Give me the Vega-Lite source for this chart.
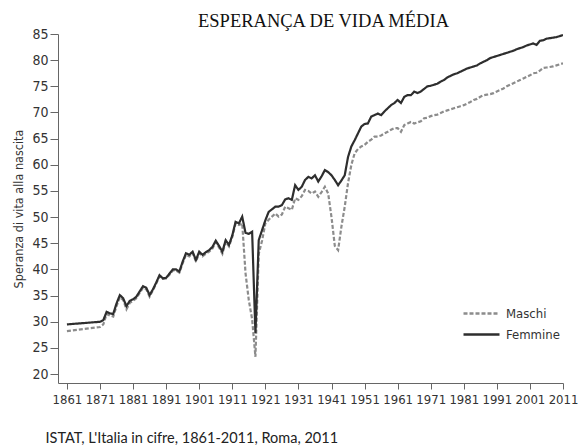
{
  "$schema": "https://vega.github.io/schema/vega-lite/v6.json",
  "autosize": {"type": "none"},
  "width": 505,
  "height": 349,
  "padding": {"left": 58, "top": 34, "right": 15, "bottom": 63},
  "background": "white",
  "title": {
    "text": "ESPERANÇA DE VIDA MÉDIA",
    "font": "Liberation Serif",
    "fontSize": 18.5,
    "fontWeight": "normal",
    "color": "#111111",
    "anchor": "middle",
    "dx": 13,
    "offset": -3
  },
  "data": {
    "values": [
      {"anno": 1861, "Maschi": 28.2, "Femmine": 29.5},
      {"anno": 1871, "Maschi": 29.0, "Femmine": 30.0},
      {"anno": 1872, "Maschi": 29.5, "Femmine": 30.3},
      {"anno": 1873, "Maschi": 31.5, "Femmine": 31.9},
      {"anno": 1874, "Maschi": 31.2, "Femmine": 31.6},
      {"anno": 1875, "Maschi": 31.0, "Femmine": 31.5},
      {"anno": 1876, "Maschi": 33.0, "Femmine": 33.5},
      {"anno": 1877, "Maschi": 34.7, "Femmine": 35.1},
      {"anno": 1878, "Maschi": 34.2, "Femmine": 34.5},
      {"anno": 1879, "Maschi": 32.4, "Femmine": 33.0},
      {"anno": 1880, "Maschi": 33.6, "Femmine": 34.0},
      {"anno": 1881, "Maschi": 34.0, "Femmine": 34.3},
      {"anno": 1882, "Maschi": 34.5, "Femmine": 34.8},
      {"anno": 1883, "Maschi": 35.5, "Femmine": 35.8},
      {"anno": 1884, "Maschi": 36.5, "Femmine": 36.8},
      {"anno": 1885, "Maschi": 36.2, "Femmine": 36.5},
      {"anno": 1886, "Maschi": 34.8, "Femmine": 35.1},
      {"anno": 1887, "Maschi": 36.0, "Femmine": 36.2},
      {"anno": 1888, "Maschi": 37.3, "Femmine": 37.5},
      {"anno": 1889, "Maschi": 38.7, "Femmine": 38.9},
      {"anno": 1890, "Maschi": 38.2, "Femmine": 38.3},
      {"anno": 1891, "Maschi": 38.3, "Femmine": 38.4},
      {"anno": 1892, "Maschi": 39.0, "Femmine": 39.2},
      {"anno": 1893, "Maschi": 39.8, "Femmine": 40.0},
      {"anno": 1894, "Maschi": 39.8, "Femmine": 40.0},
      {"anno": 1895, "Maschi": 39.4, "Femmine": 39.6},
      {"anno": 1896, "Maschi": 41.2, "Femmine": 41.5},
      {"anno": 1897, "Maschi": 42.8, "Femmine": 43.1},
      {"anno": 1898, "Maschi": 42.5, "Femmine": 42.8},
      {"anno": 1899, "Maschi": 43.2, "Femmine": 43.4},
      {"anno": 1900, "Maschi": 41.5, "Femmine": 41.8},
      {"anno": 1901, "Maschi": 43.1, "Femmine": 43.4},
      {"anno": 1902, "Maschi": 42.5, "Femmine": 42.8},
      {"anno": 1903, "Maschi": 43.0, "Femmine": 43.3},
      {"anno": 1904, "Maschi": 43.4, "Femmine": 43.7},
      {"anno": 1905, "Maschi": 44.0, "Femmine": 44.3},
      {"anno": 1906, "Maschi": 45.2, "Femmine": 45.5},
      {"anno": 1907, "Maschi": 44.2, "Femmine": 44.5},
      {"anno": 1908, "Maschi": 43.0, "Femmine": 43.4},
      {"anno": 1909, "Maschi": 45.3, "Femmine": 45.6},
      {"anno": 1910, "Maschi": 44.4, "Femmine": 44.7},
      {"anno": 1911, "Maschi": 46.2, "Femmine": 46.5},
      {"anno": 1912, "Maschi": 48.8, "Femmine": 49.1},
      {"anno": 1913, "Maschi": 48.5, "Femmine": 48.8},
      {"anno": 1914, "Maschi": 48.8, "Femmine": 50.1},
      {"anno": 1915, "Maschi": 39.3, "Femmine": 47.0},
      {"anno": 1916, "Maschi": 34.1, "Femmine": 46.8},
      {"anno": 1917, "Maschi": 30.5, "Femmine": 47.2},
      {"anno": 1918, "Maschi": 23.3, "Femmine": 27.8},
      {"anno": 1919, "Maschi": 43.0, "Femmine": 45.6},
      {"anno": 1920, "Maschi": 45.5, "Femmine": 47.5},
      {"anno": 1921, "Maschi": 48.8, "Femmine": 49.4},
      {"anno": 1922, "Maschi": 49.5, "Femmine": 51.0},
      {"anno": 1923, "Maschi": 50.1, "Femmine": 51.5},
      {"anno": 1924, "Maschi": 50.7, "Femmine": 52.0},
      {"anno": 1925, "Maschi": 50.1, "Femmine": 52.0},
      {"anno": 1926, "Maschi": 50.5, "Femmine": 52.3},
      {"anno": 1927, "Maschi": 52.0, "Femmine": 53.4},
      {"anno": 1928, "Maschi": 51.7, "Femmine": 53.6},
      {"anno": 1929, "Maschi": 51.4, "Femmine": 53.3},
      {"anno": 1930, "Maschi": 53.6, "Femmine": 56.1},
      {"anno": 1931, "Maschi": 53.3, "Femmine": 55.2},
      {"anno": 1932, "Maschi": 54.0, "Femmine": 55.8},
      {"anno": 1933, "Maschi": 55.2, "Femmine": 57.1},
      {"anno": 1934, "Maschi": 55.0, "Femmine": 57.7},
      {"anno": 1935, "Maschi": 54.5, "Femmine": 57.4},
      {"anno": 1936, "Maschi": 54.9, "Femmine": 58.0},
      {"anno": 1937, "Maschi": 53.9, "Femmine": 56.8},
      {"anno": 1938, "Maschi": 54.8, "Femmine": 57.8},
      {"anno": 1939, "Maschi": 55.8, "Femmine": 59.0},
      {"anno": 1940, "Maschi": 54.5, "Femmine": 58.6},
      {"anno": 1941, "Maschi": 50.0, "Femmine": 58.0},
      {"anno": 1942, "Maschi": 44.5, "Femmine": 57.1},
      {"anno": 1943, "Maschi": 43.7, "Femmine": 56.1},
      {"anno": 1944, "Maschi": 48.2, "Femmine": 57.0},
      {"anno": 1945, "Maschi": 52.0, "Femmine": 58.0},
      {"anno": 1946, "Maschi": 56.5, "Femmine": 61.5},
      {"anno": 1947, "Maschi": 60.0, "Femmine": 63.5},
      {"anno": 1948, "Maschi": 62.2, "Femmine": 64.7},
      {"anno": 1949, "Maschi": 63.0, "Femmine": 66.0},
      {"anno": 1950, "Maschi": 63.5, "Femmine": 67.3},
      {"anno": 1951, "Maschi": 63.8, "Femmine": 67.8},
      {"anno": 1952, "Maschi": 64.4, "Femmine": 67.9},
      {"anno": 1953, "Maschi": 64.8, "Femmine": 69.2},
      {"anno": 1954, "Maschi": 65.4, "Femmine": 69.5},
      {"anno": 1955, "Maschi": 65.4, "Femmine": 69.8},
      {"anno": 1956, "Maschi": 65.6, "Femmine": 69.5},
      {"anno": 1957, "Maschi": 66.0, "Femmine": 70.2},
      {"anno": 1958, "Maschi": 66.3, "Femmine": 70.8},
      {"anno": 1959, "Maschi": 66.7, "Femmine": 71.4},
      {"anno": 1960, "Maschi": 67.0, "Femmine": 71.8},
      {"anno": 1961, "Maschi": 67.0, "Femmine": 72.4},
      {"anno": 1962, "Maschi": 66.3, "Femmine": 71.8},
      {"anno": 1963, "Maschi": 67.6, "Femmine": 73.0},
      {"anno": 1964, "Maschi": 67.9, "Femmine": 73.3},
      {"anno": 1965, "Maschi": 68.2, "Femmine": 73.3},
      {"anno": 1966, "Maschi": 67.9, "Femmine": 74.0},
      {"anno": 1967, "Maschi": 68.1, "Femmine": 73.7},
      {"anno": 1968, "Maschi": 68.3, "Femmine": 74.0},
      {"anno": 1969, "Maschi": 68.9, "Femmine": 74.5},
      {"anno": 1970, "Maschi": 69.0, "Femmine": 75.0},
      {"anno": 1971, "Maschi": 69.3, "Femmine": 75.1},
      {"anno": 1972, "Maschi": 69.5, "Femmine": 75.3},
      {"anno": 1973, "Maschi": 69.6, "Femmine": 75.5},
      {"anno": 1974, "Maschi": 69.9, "Femmine": 75.9},
      {"anno": 1975, "Maschi": 70.2, "Femmine": 76.2},
      {"anno": 1976, "Maschi": 70.4, "Femmine": 76.7},
      {"anno": 1977, "Maschi": 70.6, "Femmine": 77.0},
      {"anno": 1978, "Maschi": 70.8, "Femmine": 77.3},
      {"anno": 1979, "Maschi": 71.0, "Femmine": 77.5},
      {"anno": 1980, "Maschi": 71.2, "Femmine": 77.8},
      {"anno": 1981, "Maschi": 71.4, "Femmine": 78.1},
      {"anno": 1982, "Maschi": 71.7, "Femmine": 78.4},
      {"anno": 1983, "Maschi": 72.0, "Femmine": 78.6},
      {"anno": 1984, "Maschi": 72.4, "Femmine": 78.8},
      {"anno": 1985, "Maschi": 72.6, "Femmine": 79.0},
      {"anno": 1986, "Maschi": 73.0, "Femmine": 79.4},
      {"anno": 1987, "Maschi": 73.3, "Femmine": 79.7},
      {"anno": 1988, "Maschi": 73.4, "Femmine": 80.0},
      {"anno": 1989, "Maschi": 73.5, "Femmine": 80.4},
      {"anno": 1990, "Maschi": 73.7, "Femmine": 80.6},
      {"anno": 1991, "Maschi": 74.0, "Femmine": 80.8},
      {"anno": 1992, "Maschi": 74.3, "Femmine": 81.0},
      {"anno": 1993, "Maschi": 74.6, "Femmine": 81.2},
      {"anno": 1994, "Maschi": 75.0, "Femmine": 81.4},
      {"anno": 1995, "Maschi": 75.3, "Femmine": 81.6},
      {"anno": 1996, "Maschi": 75.6, "Femmine": 81.8},
      {"anno": 1997, "Maschi": 75.9, "Femmine": 82.1},
      {"anno": 1998, "Maschi": 76.2, "Femmine": 82.3},
      {"anno": 1999, "Maschi": 76.5, "Femmine": 82.5},
      {"anno": 2000, "Maschi": 76.8, "Femmine": 82.8},
      {"anno": 2001, "Maschi": 77.1, "Femmine": 83.0},
      {"anno": 2002, "Maschi": 77.5, "Femmine": 83.2},
      {"anno": 2003, "Maschi": 77.6, "Femmine": 82.9},
      {"anno": 2004, "Maschi": 78.0, "Femmine": 83.7},
      {"anno": 2005, "Maschi": 78.5, "Femmine": 83.8},
      {"anno": 2006, "Maschi": 78.6, "Femmine": 84.1},
      {"anno": 2007, "Maschi": 78.7, "Femmine": 84.2},
      {"anno": 2008, "Maschi": 78.8, "Femmine": 84.3},
      {"anno": 2009, "Maschi": 79.0, "Femmine": 84.4},
      {"anno": 2010, "Maschi": 79.2, "Femmine": 84.6},
      {"anno": 2011, "Maschi": 79.4, "Femmine": 84.8}
    ]
  },
  "transform": [
    {"fold": ["Maschi", "Femmine"], "as": ["sesso", "vita"]}
  ],
  "mark": {"type": "line", "strokeWidth": 2.2, "clip": true},
  "encoding": {
    "x": {
      "field": "anno",
      "type": "quantitative",
      "scale": {"domain": [1858.3, 2011], "nice": false, "zero": false},
      "axis": {
        "values": [1861, 1871, 1881, 1891, 1901, 1911, 1921, 1931, 1941, 1951, 1961, 1971, 1981, 1991, 2001, 2011],
        "format": "d",
        "grid": false,
        "tickSize": 6,
        "labelPadding": 4,
        "labelFont": "Liberation Sans Narrow, DejaVu Sans Condensed, Liberation Sans, sans-serif",
        "labelFontSize": 13,
        "labelColor": "#333333",
        "labelFlush": false,
        "labelOverlap": false,
        "domainColor": "#666666",
        "tickColor": "#666666",
        "title": "ISTAT, L'Italia in cifre, 1861-2011, Roma, 2011",
        "titleFont": "Lato",
        "titleFontSize": 14.5,
        "titleFontWeight": "normal",
        "titleColor": "#222222",
        "titleAnchor": "start",
        "titleAlign": "left",
        "titleBaseline": "alphabetic",
        "titleX": -13,
        "titleY": 59
      }
    },
    "y": {
      "field": "vita",
      "type": "quantitative",
      "scale": {"domain": [18.3, 85], "nice": false, "zero": false},
      "axis": {
        "values": [20, 25, 30, 35, 40, 45, 50, 55, 60, 65, 70, 75, 80, 85],
        "grid": false,
        "tickSize": 8,
        "labelPadding": 2,
        "labelFont": "Liberation Sans Narrow, DejaVu Sans Condensed, Liberation Sans, sans-serif",
        "labelFontSize": 14,
        "labelColor": "#333333",
        "labelFlush": false,
        "domainColor": "#666666",
        "tickColor": "#666666",
        "title": "Speranza di vita alla nascita",
        "titleFont": "Liberation Sans Narrow, DejaVu Sans Condensed, Liberation Sans, sans-serif",
        "titleFontSize": 12.5,
        "titleFontWeight": "normal",
        "titleColor": "#333333",
        "titlePadding": 6
      }
    },
    "color": {
      "field": "sesso",
      "type": "nominal",
      "scale": {"domain": ["Maschi", "Femmine"], "range": ["#8c8c8c", "#2e2e2e"]},
      "legend": {
        "title": null,
        "orient": "none",
        "legendX": 410,
        "legendY": 266,
        "symbolType": "M-1.5,0H1.5",
        "symbolSize": 576,
        "symbolStrokeWidth": 2.5,
        "symbolFillColor": "transparent",
        "rowPadding": 0,
        "labelOffset": 11,
        "labelFont": "Liberation Sans Narrow, DejaVu Sans Condensed, Liberation Sans, sans-serif",
        "labelFontSize": 13,
        "labelColor": "#333333",
        "padding": 0
      }
    },
    "strokeDash": {
      "field": "sesso",
      "type": "nominal",
      "scale": {"domain": ["Maschi", "Femmine"], "range": [[4, 2], [1, 0]]},
      "legend": {
        "title": null,
        "orient": "none",
        "legendX": 410,
        "legendY": 266,
        "symbolType": "M-1.5,0H1.5",
        "symbolSize": 576,
        "symbolStrokeWidth": 2.5,
        "symbolFillColor": "transparent",
        "rowPadding": 0,
        "labelOffset": 11,
        "labelFont": "Liberation Sans Narrow, DejaVu Sans Condensed, Liberation Sans, sans-serif",
        "labelFontSize": 13,
        "labelColor": "#333333",
        "padding": 0
      }
    }
  },
  "config": {
    "view": {"stroke": null}
  }
}
